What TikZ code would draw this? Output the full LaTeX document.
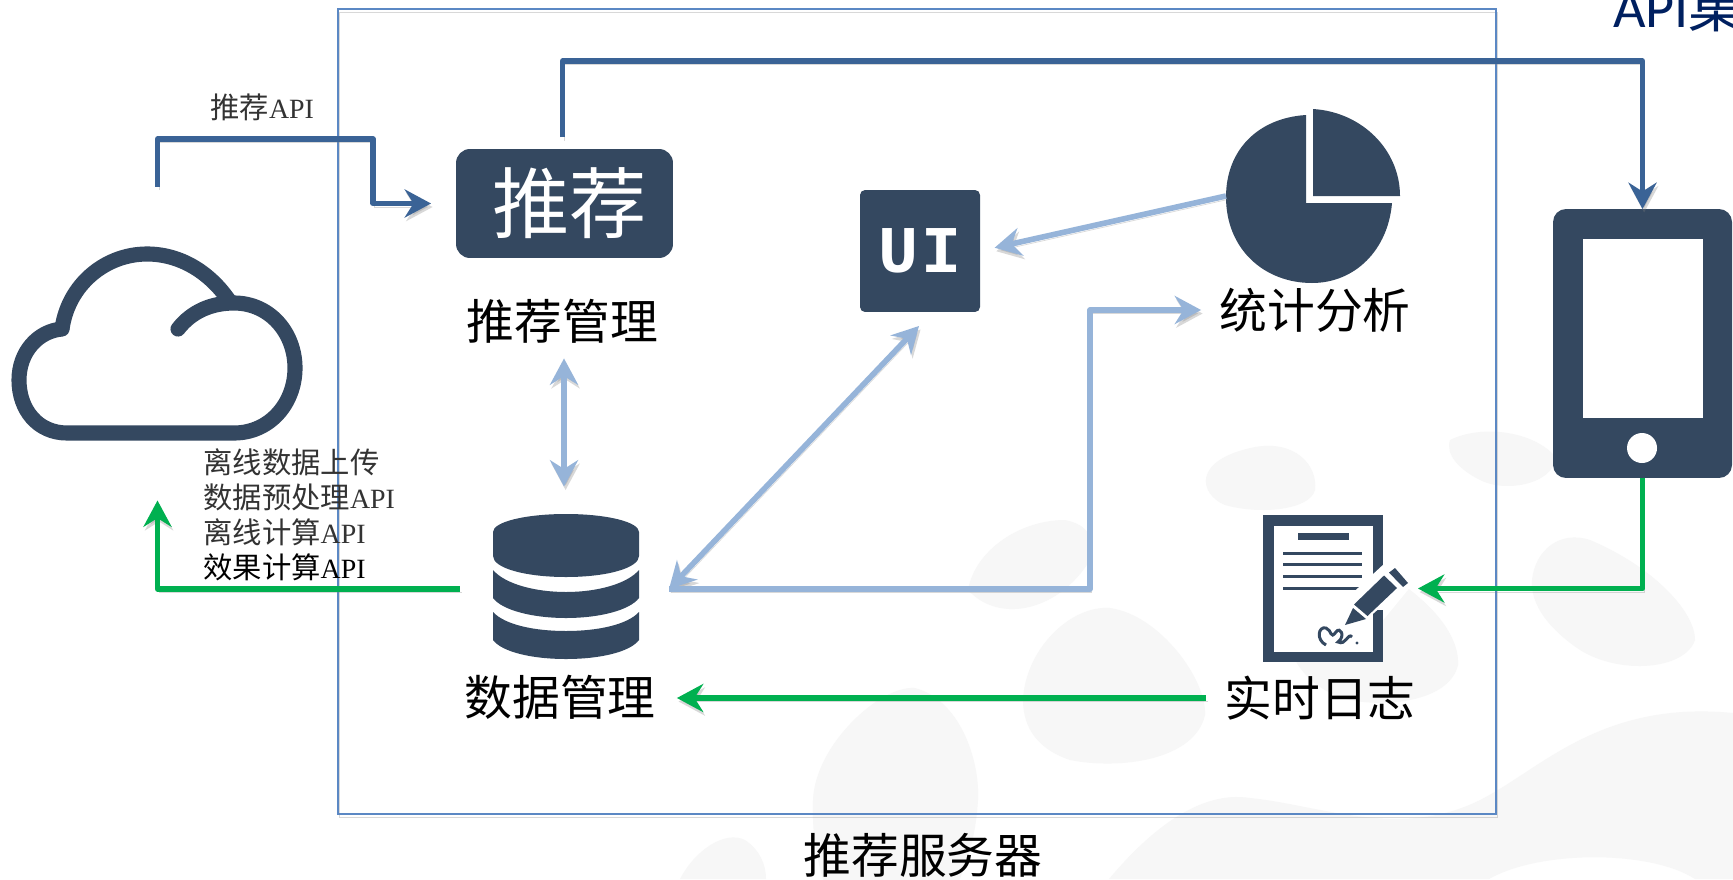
\documentclass[tikz,border=0pt]{standalone}
\usepackage{fontspec}
\usetikzlibrary{arrows.meta}
\newfontfamily\cjk{Noto Sans CJK SC}
\newfontfamily\apifont{Liberation Serif}[Scale=0.95]
\newfontfamily\uifont{Liberation Mono}
\newfontfamily\titlefont{Carlito}
\definecolor{icondark}{RGB}{52,72,96}
\definecolor{navyline}{RGB}{58,99,150}
\definecolor{paleline}{RGB}{150,180,217}
\definecolor{greenline}{RGB}{0,176,80}
\definecolor{boxline}{RGB}{91,136,196}
\definecolor{blobgray}{RGB}{247,247,247}
\definecolor{titlenavy}{RGB}{0,32,96}
\tikzset{
	linkshadow/.style={preaction={draw=black!50,opacity=.3,transform canvas={shift={(.9pt,-2pt)}}}},
	navylink/.style={draw=navyline,line width=3pt,line join=round,linkshadow},
	palelink/.style={draw=paleline,line width=3.2pt,line join=round,linkshadow},
	greenlink/.style={draw=greenline,line width=3pt,line join=round,linkshadow},
	iconbox/.style={inner sep=0pt,outer sep=0pt},
	biglabel/.style={inner sep=0pt,font=\cjk\fontsize{27.2}{30}\selectfont},
	smalllabel/.style={inner sep=0pt,font=\cjk\fontsize{16.7}{20}\selectfont,align=left,text=black!80},
}
\begin{document}
\begin{tikzpicture}[x=0.02cm,y=-0.02cm,>={Stealth[length=15pt,width=16pt,inset=5pt]}]
\useasboundingbox (0,0) rectangle (1733,879);
\fill[white] (0,0) rectangle (1733,879);
% background blobs
\begin{scope}
\clip (0,0) rectangle (1733,879);
\fill[blobgray] (1255,447) .. controls (1295,440) and (1318,465) .. (1315,490) .. controls (1310,510) and (1260,515) .. (1225,505) .. controls (1200,495) and (1190,460) .. (1255,447) -- cycle;
\fill[blobgray] (1450,440) .. controls (1480,425) and (1530,430) .. (1554,455) .. controls (1560,480) and (1510,495) .. (1480,480) .. controls (1460,470) and (1445,455) .. (1450,440) -- cycle;
\fill[blobgray] (968,590) .. controls (975,550) and (1020,520) .. (1065,520) .. controls (1090,525) and (1095,540) .. (1090,560) .. controls (1060,610) and (1000,625) .. (968,590) -- cycle;
\fill[blobgray] (1023,700) .. controls (1025,650) and (1070,605) .. (1110,608) .. controls (1160,615) and (1207,680) .. (1205,715) .. controls (1195,760) and (1120,770) .. (1070,760) .. controls (1040,750) and (1023,730) .. (1023,700) -- cycle;
\fill[blobgray] (813,800) .. controls (815,745) and (880,685) .. (915,688) .. controls (960,700) and (980,760) .. (978,800) .. controls (975,850) and (960,879) .. (950,900) -- (830,900) .. controls (815,860) and (812,830) .. (813,800) -- cycle;
\fill[blobgray] (1286,620) .. controls (1290,590) and (1330,560) .. (1370,565) .. controls (1420,590) and (1460,630) .. (1458,665) .. controls (1450,700) and (1390,708) .. (1350,700) .. controls (1310,690) and (1285,660) .. (1286,620) -- cycle;
\fill[blobgray] (1532,580) .. controls (1535,550) and (1560,530) .. (1590,540) .. controls (1650,565) and (1695,610) .. (1695,640) .. controls (1685,670) and (1620,675) .. (1580,650) .. controls (1550,630) and (1530,605) .. (1532,580) -- cycle;
\fill[blobgray] (1109,879) .. controls (1150,830) and (1200,790) .. (1250,798) .. controls (1320,805) and (1400,840) .. (1480,800) .. controls (1540,770) and (1600,700) .. (1733,713) -- (1733,879) -- (1695,879) .. controls (1650,850) and (1540,850) .. (1489,879) -- cycle;
\fill[blobgray] (680,879) .. controls (695,850) and (725,830) .. (745,840) .. controls (760,850) and (766,865) .. (766,879) -- cycle;
\end{scope}
% server box
\draw[draw=boxline,line width=1pt,linkshadow] (338,9) rectangle (1496,814);
\node[biglabel] (serverlabel) at (923,855) {推荐服务器};
\begin{scope}
\clip (0,0) rectangle (1733,879);
\node[iconbox,text=titlenavy,anchor=base west] (apititle) at (1613,28) {\fontsize{32}{36}\titlefont API\cjk 集};
\end{scope}
% icons
\node[iconbox,draw=none,minimum width=5.86cm,minimum height=3.9cm] (cloud) at (157.5,342) {};
\draw[icondark,line width=8.6pt,line cap=round,line join=round]
	(178,329) .. controls (192,311) and (212,303) .. (234,303) .. controls (270,303) and (295,333) .. (295,368) .. controls (295,403) and (270,433) .. (234,433)
	-- (67,433) .. controls (38,433) and (19,410) .. (19,380) .. controls (19,352) and (38,331) .. (62,329);
\draw[icondark,line width=8.6pt,line join=round]
	(62,329) .. controls (68,285) and (105,254) .. (147,254) .. controls (180,254) and (210,272) .. (230,302);
\node[iconbox,fill=icondark,rounded corners=.28cm,minimum width=4.34cm,minimum height=2.18cm,text=white,font=\cjk\fontsize{44}{46}\selectfont] (rec) at (564.5,203.5) {\kern6pt推荐};
\node[biglabel] (reclabel) at (562.5,321) {推荐管理};
\node[iconbox,fill=icondark,rounded corners=.1cm,minimum width=2.4cm,minimum height=2.44cm,text=white,font=\uifont\bfseries\fontsize{38}{40}\selectfont] (ui) at (920,251) {U\kern2pt I};
\node[iconbox,minimum width=3.48cm,minimum height=3.48cm] (pie) at (1313,196) {};
\fill[icondark] (1306,115) .. controls (1258,118) and (1226,150) .. (1226,197) .. controls (1226,250) and (1265,283) .. (1312,283) .. controls (1355,283) and (1388,250) .. (1392,203) -- (1306,203) -- cycle;
\fill[icondark] (1313,109) .. controls (1362,112) and (1400,150) .. (1400,196) -- (1313,196) -- cycle;
\node[biglabel] (statlabel) at (1315,310) {统计分析};
\node[iconbox,fill=icondark,rounded corners=.26cm,minimum width=3.58cm,minimum height=5.38cm] (tablet) at (1642.5,343.5) {};
\fill[white] (1583,238.5) rectangle (1703,418);
\fill[white] (1642,448) circle[radius=15];
\node[iconbox,minimum width=2.92cm,minimum height=2.94cm] (db) at (566,589) {};
\fill[icondark] (493,532) .. controls (493,522) and (525,514) .. (566,514) .. controls (607,514) and (639,522) .. (639,532) -- (639,556) .. controls (639,568) and (607,577) .. (566,577) .. controls (525,577) and (493,568) .. (493,556) -- cycle;
\fill[icondark] (493,570) .. controls (505,584) and (535,592) .. (566,592) .. controls (597,592) and (627,584) .. (639,570) -- (639,598) .. controls (630,610) and (600,618) .. (566,618) .. controls (532,618) and (502,610) .. (493,598) -- cycle;
\fill[icondark] (493,612) .. controls (505,625) and (535,631) .. (566,631) .. controls (597,631) and (627,625) .. (639,612) -- (639,640) .. controls (630,652) and (600,659) .. (566,659) .. controls (532,659) and (502,652) .. (493,640) -- cycle;
\node[biglabel] (dblabel) at (560,697) {数据管理};
\node[iconbox,minimum width=2.9cm,minimum height=2.94cm] (log) at (1335.5,588.5) {};
\fill[icondark] (1263,515) rectangle (1383,662);
\fill[white] (1274,526) rectangle (1373,652);
\fill[icondark] (1298,533) rectangle (1349,540);
\foreach \y in {553,564,576,588}{
	\fill[icondark] (1283,\y-1.5) rectangle (1362,\y+1.5);
}
\fill[white] (1335,635) -- (1345,600) -- (1385,563) -- (1412,585) -- (1375,630) -- cycle;
\fill[white] (1373,600) rectangle (1383,640);
\fill[icondark] (1373,610) rectangle (1383,662);
\fill[white] (1345,625) -- (1353,604) -- (1388,572) -- (1400,590) -- (1366,620) -- cycle;
\fill[icondark] (1345,625) -- (1353,608) -- (1366,619) -- cycle;
\fill[icondark] (1354,604.5) -- (1384,575.5) -- (1397,588) -- (1367.5,616) -- cycle;
\fill[icondark] (1389,572.6) -- (1395,568) -- (1408,583) -- (1403,587) -- cycle;
\draw[icondark,line width=1.7pt] (1326,645) .. controls (1316,640) and (1318,626) .. (1326,628) .. controls (1332,630) and (1330,640) .. (1336,632) .. controls (1340,626) and (1346,636) .. (1338,642) .. controls (1346,646) and (1348,632) .. (1352,637);
\fill[icondark] (1357,643) circle[radius=1.6];
\node[biglabel] (loglabel) at (1320,698) {实时日志};
% small labels
\node[smalllabel,anchor=north west] (reclink) at (210,93) {推荐{\apifont API}};
\node[smalllabel,anchor=north west] (uploadlist) at (203,448) {离线数据上传\\数据预处理{\apifont API}\\离线计算{\apifont API}\\\textcolor{black}{效果计算{\apifont API}}};
% links
\draw[navylink,->,shorten <=1.16cm,shorten >=.5cm] (cloud.north) |- (373,139) |- (rec.west);
\draw[navylink,->,shorten <=.24cm] ([xshift=-.04cm]rec.north) |- (1642.5,61) -- (tablet.north);
\coordinate (dbport) at (669,589);
\draw[palelink,<->,shorten <=.3cm,shorten >=.58cm] ([xshift=-.04cm]reclabel.south -| db.north) -- ([xshift=-.04cm]db.north);
\draw[palelink,<->] (dbport) -- ([xshift=-.02cm,yshift=-.28cm]ui.south);
\draw[palelink,->,shorten >=.36cm] (dbport) -| (1090,310) -- (statlabel.west);
\draw[palelink,->,shorten >=.3cm] (pie.west -| 1226,0) -- (ui.east);
\draw[greenlink,->,shorten >=.2cm] (tablet.south) |- (log.east);
\draw[greenlink,->,shorten <=.36cm,shorten >=.42cm] (loglabel.west) -- (dblabel.east |- loglabel.west);
\draw[greenlink,->,shorten <=.66cm,shorten >=1.22cm] (db.west) -| (cloud.south);
\end{tikzpicture}
\end{document}
